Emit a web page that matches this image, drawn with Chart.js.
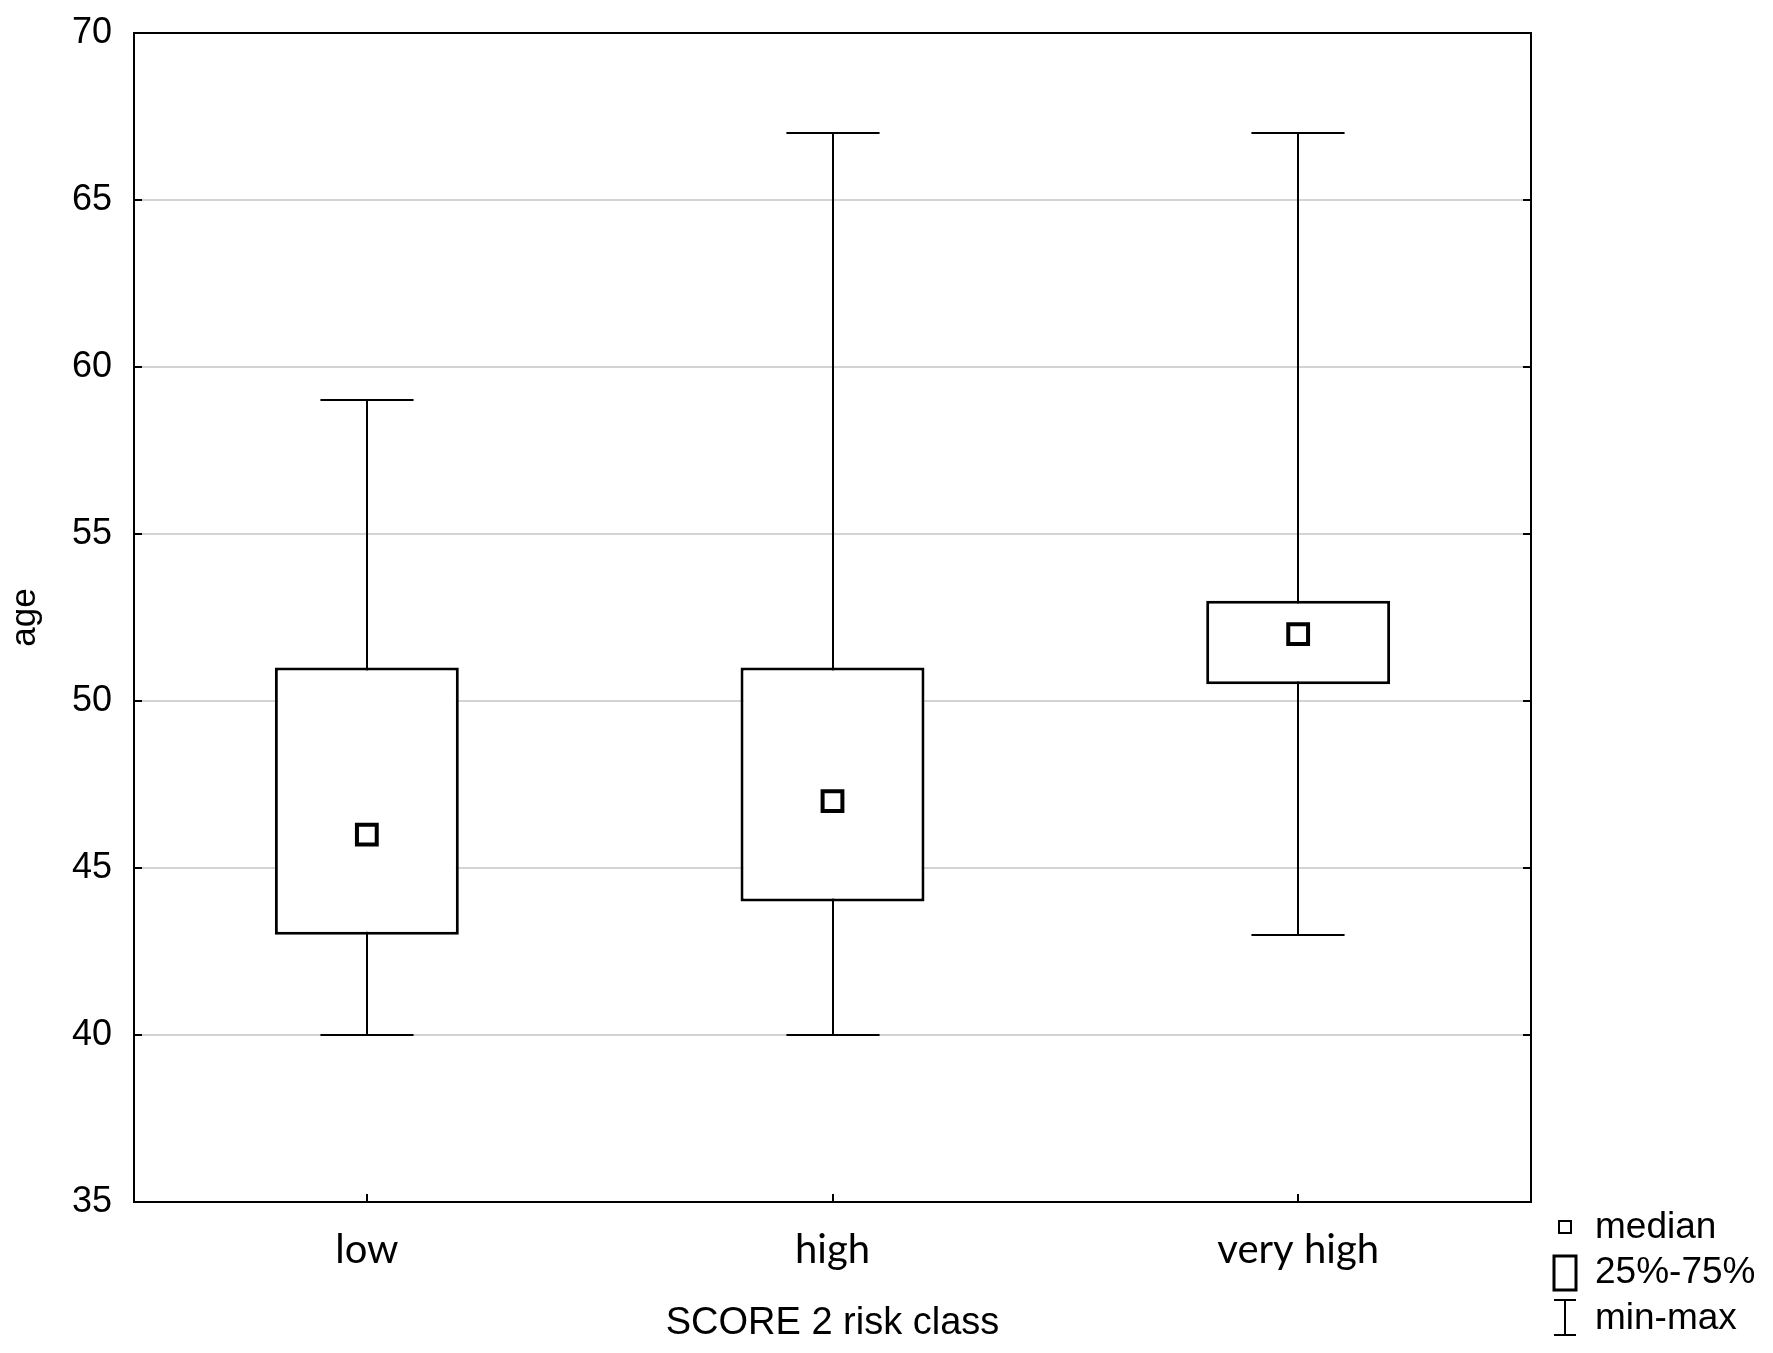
<!DOCTYPE html>
<html>
<head>
<meta charset="utf-8">
<script src="https://cdn.jsdelivr.net/npm/chart.js@4.4.1/dist/chart.umd.min.js"></script>
<style>
  html, body { margin: 0; padding: 0; background: #fff; }
  #wrap { width: 1773px; height: 1353px; }
</style>
</head>
<body>
<div id="wrap"><canvas id="myChart" width="1773" height="1353"></canvas></div>
<script>
// values
const categories = ["low", "high", "very high"];
const minVals = [40, 40, 43];
const q1Vals = [43, 44, 50.5];
const medianVals = [46, 47, 52];
const q3Vals = [51, 51, 53];
const maxVals = [59, 67, 67];

const yTicks = [35, 40, 45, 50, 55, 60, 65, 70];

const sans = "'Liberation Sans', Arial, sans-serif";

// whiskers (min-max) go behind the boxes
const whiskers = {
  id: "whiskers",
  beforeDatasetsDraw(chart) {
    const { ctx, scales: { x, y } } = chart;
    const capHalf = (x.getPixelForValue(1) - x.getPixelForValue(0)) * 0.1;
    ctx.save();
    ctx.strokeStyle = "#000";
    ctx.lineWidth = 2;
    categories.forEach((c, i) => {
      const px = Math.round(x.getPixelForValue(i));
      const yMin = Math.round(y.getPixelForValue(minVals[i]));
      const yMax = Math.round(y.getPixelForValue(maxVals[i]));
      ctx.beginPath();
      ctx.moveTo(px, yMin);
      ctx.lineTo(px, yMax);
      ctx.moveTo(px - capHalf, yMin);
      ctx.lineTo(px + capHalf, yMin);
      ctx.moveTo(px - capHalf, yMax);
      ctx.lineTo(px + capHalf, yMax);
      ctx.stroke();
    });
    ctx.restore();
  }
};

// frame, inward tick marks and the little legend at bottom right
const frame = {
  id: "frame",
  afterDraw(chart) {
    const { ctx, chartArea: a, scales: { x, y } } = chart;
    ctx.save();
    ctx.strokeStyle = "#000";
    ctx.lineWidth = 2;
    ctx.strokeRect(a.left, a.top, a.right - a.left, a.bottom - a.top);
    ctx.beginPath();
    yTicks.forEach(v => {
      const py = Math.round(y.getPixelForValue(v));
      ctx.moveTo(a.left, py); ctx.lineTo(a.left + 8, py);
      ctx.moveTo(a.right, py); ctx.lineTo(a.right - 8, py);
    });
    categories.forEach((c, i) => {
      const px = Math.round(x.getPixelForValue(i));
      ctx.moveTo(px, a.bottom); ctx.lineTo(px, a.bottom - 8);
    });
    ctx.stroke();

    // legend
    const lx = a.right + 34;
    const tx = a.right + 64;
    ctx.fillStyle = "#000";
    ctx.font = "37px " + sans;
    ctx.textBaseline = "middle";
    ctx.textAlign = "left";
    ctx.lineWidth = 2;
    ctx.strokeRect(lx - 6, a.bottom + 19, 12, 12);
    ctx.fillText("median", tx, a.bottom + 26);
    ctx.lineWidth = 3;
    ctx.strokeRect(lx - 11, a.bottom + 54, 22, 34);
    ctx.fillText("25%-75%", tx, a.bottom + 71);
    ctx.lineWidth = 2;
    ctx.beginPath();
    ctx.moveTo(lx - 11, a.bottom + 98); ctx.lineTo(lx + 11, a.bottom + 98);
    ctx.moveTo(lx, a.bottom + 98); ctx.lineTo(lx, a.bottom + 133);
    ctx.moveTo(lx - 11, a.bottom + 133); ctx.lineTo(lx + 11, a.bottom + 133);
    ctx.stroke();
    ctx.fillText("min-max", tx, a.bottom + 117);
    ctx.restore();
  }
};

const ctx = document.getElementById("myChart").getContext("2d");
const chart = new Chart(ctx, {
  type: "bar",
  data: {
    labels: categories,
    datasets: [
      {
        type: "line",
        label: "median",
        data: medianVals,
        showLine: false,
        pointStyle: "rect",
        pointRadius: 14,
        pointBorderWidth: 4,
        pointBackgroundColor: "#fff",
        pointBorderColor: "#000",
        order: 0
      },
      {
        label: "25%-75%",
        data: categories.map((c, i) => [q1Vals[i], q3Vals[i]]),
        backgroundColor: "#fff",
        borderColor: "#000",
        borderWidth: 3,
        borderSkipped: false,
        categoryPercentage: 1,
        barPercentage: 0.395,
        order: 1
      }
    ]
  },
  options: {
    responsive: false,
    animation: false,
    layout: { padding: { left: 0, right: 242, top: 33, bottom: 0 } },
    plugins: {
      legend: { display: false },
      tooltip: { enabled: false }
    },
    scales: {
      x: {
        offset: true,
        grid: { display: false, drawTicks: false },
        border: { display: true, color: "#000", width: 2 },
        ticks: {
          color: "#000",
          padding: 24,
          font: { family: "Lato, 'Open Sans', sans-serif", size: 40 }
        },
        title: {
          display: true,
          text: "SCORE 2 risk class",
          color: "#000",
          font: { family: sans, size: 38 },
          padding: { top: 0, bottom: 7 }
        },
        afterFit(s) {
          s.height = 151;
          s.paddingLeft = 0;
          s.paddingRight = 0;
        }
      },
      y: {
        min: 35,
        max: 70,
        ticks: {
          stepSize: 5,
          color: "#000",
          padding: 22,
          font: { family: sans, size: 36 }
        },
        grid: {
          drawTicks: false,
          lineWidth: 2,
          color: c => (c.tick && (c.tick.value === 35 || c.tick.value === 70)) ? "rgba(0,0,0,0)" : "#d3d3d3"
        },
        border: { display: true, color: "#000", width: 2 },
        title: {
          display: true,
          text: "age",
          color: "#000",
          font: { family: sans, size: 35 },
          padding: { top: 4, bottom: 0 }
        },
        afterFit(s) {
          s.width = 134;
          s.paddingTop = 0;
          s.paddingBottom = 0;
        }
      }
    }
  },
  plugins: [whiskers, frame]
});
</script>
</body>
</html>
